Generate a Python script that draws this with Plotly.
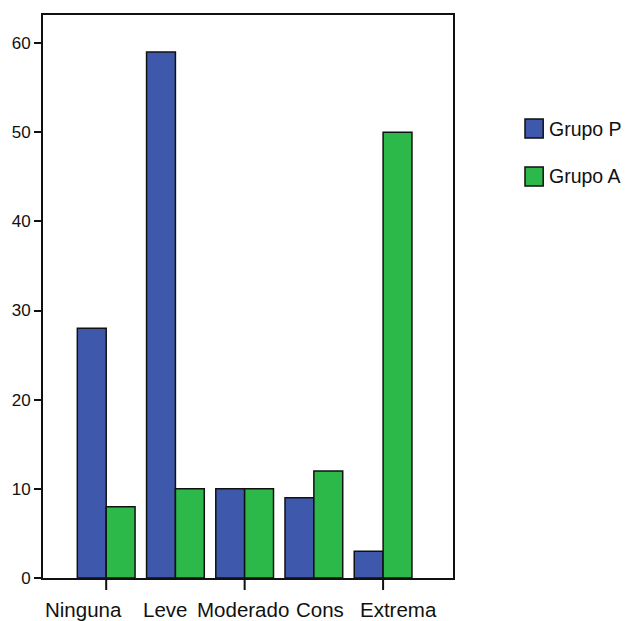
import plotly.graph_objects as go

categories = ["Ninguna", "Leve", "Moderado", "Cons", "Extrema"]
grupo_p = [28, 59, 10, 9, 3]
grupo_a = [8, 10, 10, 12, 50]
series_names = ["Grupo P", "Grupo A"]
colors = ["#3E58AC", "#2DB84A"]
y_ticks = [0, 10, 20, 30, 40, 50, 60]
tick_mark_cats = ["Ninguna", "Moderado", "Extrema"]
# horizontal placement of the category captions (fraction of plot width)
label_pos = [0.0998, 0.297, 0.4878, 0.6744, 0.8666]
# legend rows (paper y of square bottom/top)
legend_rows = [(0.7815, 0.8153), (0.6963, 0.7300)]

fig = go.Figure()
for name, vals, col in zip(series_names, [grupo_p, grupo_a], colors):
    fig.add_trace(go.Bar(x=categories, y=vals, name=name, showlegend=False,
                         marker=dict(color=col, line=dict(color="#111111", width=1.5))))

plot_h = 563
shapes = []
for c in tick_mark_cats:
    shapes.append(dict(type="line", xref="x", yref="paper", x0=c, x1=c,
                       y0=0, y1=-12 / plot_h, line=dict(color="#111111", width=2)))

annotations = []
for lab, px in zip(categories, label_pos):
    annotations.append(dict(text=lab, xref="paper", yref="paper", x=px, y=-19 / plot_h,
                            xanchor="center", yanchor="top", showarrow=False,
                            borderpad=0, font=dict(size=20.5, color="#111111")))

# legend drawn as squares + captions
for name, col, (yb, yt) in zip(series_names, colors, legend_rows):
    shapes.append(dict(type="rect", xref="paper", yref="paper", x0=1.1756, x1=1.2200,
                       y0=yb, y1=yt, fillcolor=col, line=dict(color="#111111", width=1.5)))
    annotations.append(dict(text=name, xref="paper", yref="paper", x=1.2317,
                            y=(yb + yt) / 2, xanchor="left", yanchor="middle",
                            showarrow=False, borderpad=0,
                            font=dict(size=19.5, color="#111111")))

fig.update_layout(
    width=623, height=613,
    margin=dict(l=35, r=178, t=7, b=43, autoexpand=False),
    paper_bgcolor="white", plot_bgcolor="white",
    barmode="group", bargap=0.166, bargroupgap=0,
    font=dict(family="Liberation Sans, Arial, sans-serif", color="#111111"),
    shapes=shapes,
    annotations=annotations,
    showlegend=False,
    xaxis=dict(type="category", range=[-0.913, 5.01], showgrid=False, automargin=False,
               showline=True, linecolor="#111111", linewidth=2, mirror=True,
               ticks="", showticklabels=False),
    yaxis=dict(range=[0, 63.14], tickvals=y_ticks, showgrid=False, zeroline=False,
               automargin=False,
               showline=True, linecolor="#111111", linewidth=2, mirror=True,
               ticks="outside", ticklen=7, tickwidth=2, tickcolor="#111111",
               tickfont=dict(size=17)),
)
fig.write_html("out.html")
